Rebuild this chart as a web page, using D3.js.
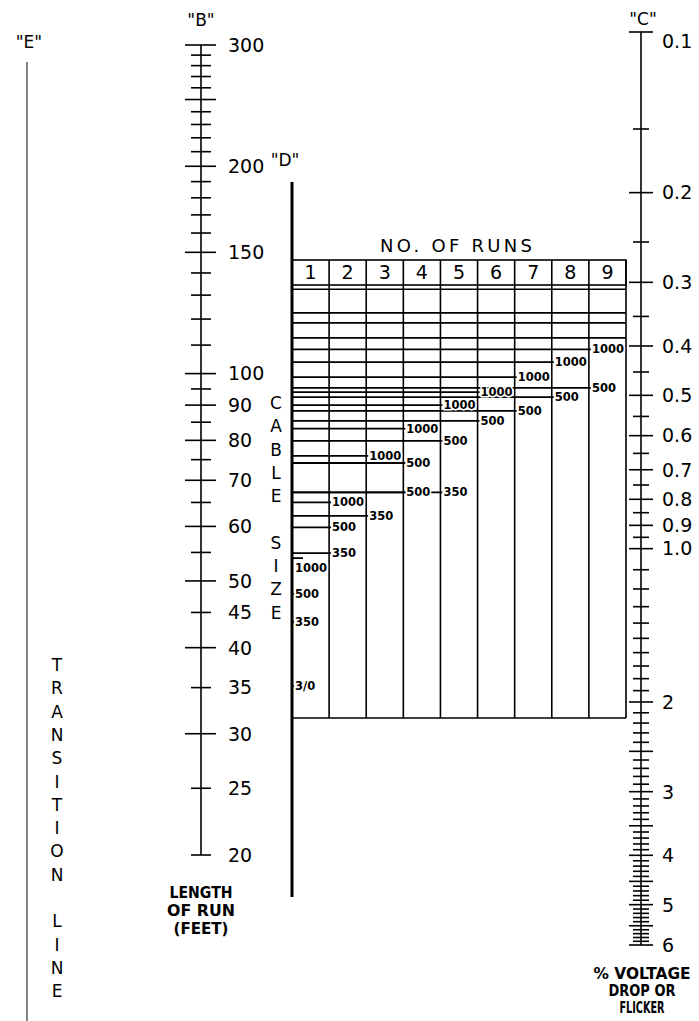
<!DOCTYPE html>
<html>
<head>
<meta charset="utf-8">
<script src="https://cdn.jsdelivr.net/npm/d3@7"></script>
<style>
  body { margin: 0; background: #fff; }
  svg text { font-family: "DejaVu Sans", sans-serif; fill: #000; }
</style>
</head>
<body>
<div id="chart"></div>
<script>
const runs = [1, 2, 3, 4, 5, 6, 7, 8, 9];

// "B" length of run (feet)
const lengthTicks = [300, 290, 280, 270, 260, 250, 240, 230, 220, 210, 200, 190, 180, 170, 160, 150,
  140, 130, 120, 110, 100, 95, 90, 85, 80, 75, 70, 65, 60, 55, 50, 45, 40, 35, 30, 25, 20];
const lengthLong = [300, 250, 200, 150, 100, 90, 80, 70, 60, 50, 40, 30];
const lengthLabels = [300, 200, 150, 100, 90, 80, 70, 60, 50, 45, 40, 35, 30, 25, 20];

// "C" % voltage drop or flicker
const dropTicks = [0.1, 0.15, 0.2, 0.25, 0.3, 0.35, 0.4, 0.45, 0.5, 0.55, 0.6, 0.65, 0.7, 0.75,
  0.8, 0.85, 0.9, 0.95, 1.0, 1.1, 1.2, 1.3, 1.4, 1.5, 1.6, 1.7, 1.8, 1.9, 2.0,
  2.1, 2.2, 2.3, 2.4, 2.5, 2.6, 2.7, 2.8, 2.9, 3.0, 3.1, 3.2, 3.3, 3.4, 3.5, 3.6, 3.7, 3.8, 3.9,
  4.0, 4.1, 4.2, 4.3, 4.4, 4.5, 4.6, 4.7, 4.8, 4.9, 5.0, 5.1, 5.2, 5.3, 5.4, 5.5, 5.6, 5.7, 5.8, 5.9, 6.0];
const dropLong = [0.1, 0.2, 0.3, 0.4, 0.5, 0.6, 0.7, 0.8, 0.9, 1.0, 2, 2.5, 3, 3.5, 4, 4.5, 5, 5.5, 6];
const dropLabels = ["0.1", "0.2", "0.3", "0.4", "0.5", "0.6", "0.7", "0.8", "0.9", "1.0", "2", "3", "4", "5", "6"];

// "D" cable size marks: column the label is printed in, cable size, reading on D (0 = top of line, 100 = bottom)
const cableMarks = [
  { col: 9, size: "1000", d: 23.4 },
  { col: 8, size: "1000", d: 25.2 },
  { col: 7, size: "1000", d: 27.3 },
  { col: 9, size: "500", d: 28.8 },
  { col: 6, size: "1000", d: 29.4 },
  { col: 8, size: "500", d: 30.1 },
  { col: 5, size: "1000", d: 31.2 },
  { col: 7, size: "500", d: 32.0 },
  { col: 6, size: "500", d: 33.4 },
  { col: 4, size: "1000", d: 34.5 },
  { col: 5, size: "500", d: 36.2 },
  { col: 3, size: "1000", d: 38.3 },
  { col: 4, size: "500", d: 39.3 },
  { col: 4, size: "500", d: 43.4 },
  { col: 5, size: "350", d: 43.4 },
  { col: 2, size: "1000", d: 44.8 },
  { col: 3, size: "350", d: 46.7 },
  { col: 2, size: "500", d: 48.3 },
  { col: 2, size: "350", d: 51.9 },
  { col: 1, size: "1000", d: 52.6 },
  { col: 1, size: "500", d: 57.6 },
  { col: 1, size: "350", d: 61.5 },
  { col: 1, size: "3/0", d: 70.5 }
];
// unlabeled lines running across the whole table
const plainMarks = [15.0, 18.3, 19.7, 21.8];

// ---- layout ----
const W = 699, H = 1021;
const bX = 201, cX = 641, dX = 292, eX = 27;
const tableRight = 626, headTop = 260, headBottom = 285, tableBottom = 718;

const svg = d3.select("#chart").append("svg")
  .attr("width", W).attr("height", H);

const yB = d3.scaleLog().domain([20, 300]).range([855, 45]);
// the drawn 0.1 end tick sits a little above its true log place
const yC = d3.scaleLog().domain([0.1, 0.15, 6]).range([32, 129, 945]);
const yD = d3.scaleLinear().domain([0, 100]).range([182, 897]);
const xRun = d3.scaleBand().domain(runs).range([dX, tableRight]);

// ---- E : transition line ----
svg.append("line")
  .attr("x1", eX).attr("x2", eX).attr("y1", 62).attr("y2", H)
  .attr("stroke", "#333").attr("stroke-width", 1.2);
svg.append("text").attr("x", eX + 2).attr("y", 48)
  .attr("text-anchor", "middle").attr("font-size", 17).text('"E"');

function verticalWord(text, x, y0, step) {
  const g = svg.append("g");
  text.split("").forEach((ch, i) => {
    if (ch === " ") return;
    g.append("text").attr("x", x).attr("y", y0 + i * step)
      .attr("text-anchor", "middle").attr("font-size", 17).text(ch);
  });
}
verticalWord("TRANSITION LINE", 57, 671, 23.3);

// ---- B : length of run ----
const gB = svg.append("g");
gB.append("line").attr("x1", bX).attr("x2", bX)
  .attr("y1", yB(300)).attr("y2", yB(20))
  .attr("stroke", "#000").attr("stroke-width", 1.6);
gB.selectAll(".tick").data(lengthTicks).join("line")
  .attr("x1", d => bX - (lengthLong.includes(d) ? 16 : 10))
  .attr("x2", d => bX + (lengthLong.includes(d) ? 15 : 10))
  .attr("y1", d => yB(d)).attr("y2", d => yB(d))
  .attr("stroke", "#000").attr("stroke-width", 1.6);
gB.selectAll(".lbl").data(lengthLabels).join("text")
  .attr("x", 228).attr("y", d => yB(d))
  .attr("dy", "0.36em").attr("font-size", 19).text(d => d);
gB.append("text").attr("x", bX).attr("y", 26)
  .attr("text-anchor", "middle").attr("font-size", 17).text('"B"');
["LENGTH", "OF RUN", "(FEET)"].forEach((t, i) => {
  gB.append("text").attr("x", bX).attr("y", 898 + i * 18)
    .attr("text-anchor", "middle")
    .attr("font-family", "Liberation Sans").attr("font-weight", "bold").attr("font-size", 16)
    .attr("textLength", [63, 68, 55][i]).attr("lengthAdjust", "spacingAndGlyphs")
    .text(t);
});

// ---- C : % voltage drop ----
const gC = svg.append("g");
gC.append("line").attr("x1", cX).attr("x2", cX)
  .attr("y1", yC(0.1)).attr("y2", yC(6))
  .attr("stroke", "#000").attr("stroke-width", 1.6);
gC.selectAll(".tick").data(dropTicks).join("line")
  .attr("x1", d => cX - (dropLong.includes(d) ? 12 : 8))
  .attr("x2", d => cX + (dropLong.includes(d) ? 12 : 8))
  .attr("y1", d => yC(d)).attr("y2", d => yC(d))
  .attr("stroke", "#000").attr("stroke-width", 1.6);
gC.selectAll(".lbl").data(dropLabels).join("text")
  .attr("x", 662).attr("y", d => yC(+d) + (d === "0.1" ? 9 : 0))
  .attr("dy", "0.36em").attr("font-size", 19).text(d => d);
gC.append("text").attr("x", cX + 2).attr("y", 25)
  .attr("text-anchor", "middle").attr("font-size", 17).text('"C"');
["% VOLTAGE", "DROP OR", "FLICKER"].forEach((t, i) => {
  gC.append("text").attr("x", cX + 1).attr("y", 979 + i * 17)
    .attr("text-anchor", "middle")
    .attr("font-family", "Liberation Sans").attr("font-weight", "bold").attr("font-size", 16)
    .attr("textLength", [97, 67, 45][i]).attr("lengthAdjust", "spacingAndGlyphs")
    .text(t);
});

// ---- D : cable size / number of runs ----
const gD = svg.append("g");
verticalWord("CABLE SIZE", 276, 409, 23.3);
gD.append("text").attr("x", 285).attr("y", 166)
  .attr("text-anchor", "middle").attr("font-size", 17).text('"D"');

// header
gD.append("text").attr("x", 456).attr("y", 252)
  .attr("text-anchor", "middle").attr("font-size", 18)
  .attr("textLength", 152).attr("lengthAdjust", "spacing")
  .text("NO. OF RUNS");
gD.append("rect").attr("x", dX).attr("y", headTop)
  .attr("width", tableRight - dX).attr("height", headBottom - headTop)
  .attr("fill", "none").attr("stroke", "#000").attr("stroke-width", 1.6);
gD.selectAll(".runlbl").data(runs).join("text")
  .attr("x", d => xRun(d) + xRun.bandwidth() / 2).attr("y", (headTop + headBottom) / 2)
  .attr("dy", "0.36em").attr("text-anchor", "middle").attr("font-size", 19).text(d => d);

// column borders
gD.selectAll(".col").data(runs.slice(1).concat(["end"])).join("line")
  .attr("x1", d => d === "end" ? tableRight : xRun(d))
  .attr("x2", d => d === "end" ? tableRight : xRun(d))
  .attr("y1", headTop).attr("y2", tableBottom)
  .attr("stroke", "#000").attr("stroke-width", 1.6);
gD.append("line").attr("x1", dX).attr("x2", tableRight)
  .attr("y1", tableBottom).attr("y2", tableBottom)
  .attr("stroke", "#000").attr("stroke-width", 1.6);

// unlabeled rows
gD.selectAll(".plain").data(plainMarks).join("line")
  .attr("x1", dX).attr("x2", tableRight)
  .attr("y1", d => yD(d)).attr("y2", d => yD(d))
  .attr("stroke", "#000").attr("stroke-width", 1.6);

// cable size rows
const under = d => d.col === 1 && d.size === "1000";
gD.selectAll(".mark").data(cableMarks).join("line")
  .attr("x1", dX).attr("x2", d => xRun(d.col) + (under(d) ? 11 : 2))
  .attr("y1", d => yD(d.d)).attr("y2", d => yD(d.d))
  .attr("stroke", "#000").attr("stroke-width", 1.8);
gD.selectAll(".marklbl").data(cableMarks).join("text")
  .attr("x", d => xRun(d.col) + 3)
  .attr("y", d => yD(d.d) + (under(d) ? 10 : 0))
  .attr("dy", "0.36em")
  .attr("font-weight", "bold").attr("font-size", 11.5)
  .attr("stroke", "#fff").attr("stroke-width", 3).attr("paint-order", "stroke")
  .text(d => d.size);

// D line on top
gD.append("line").attr("x1", dX).attr("x2", dX)
  .attr("y1", yD(0)).attr("y2", yD(100))
  .attr("stroke", "#000").attr("stroke-width", 3);
</script>
</body>
</html>
